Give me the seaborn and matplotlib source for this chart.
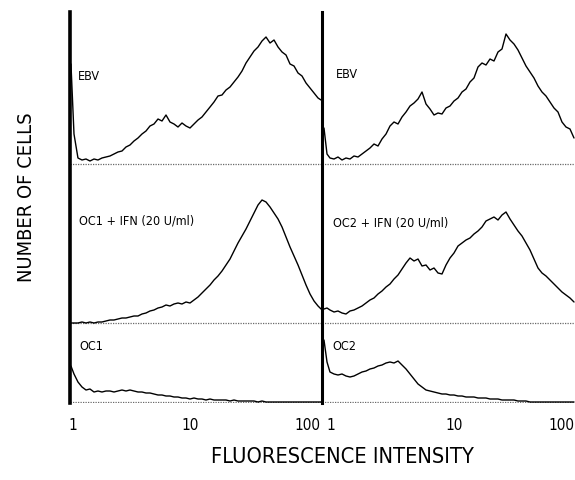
import matplotlib
matplotlib.use("Agg")
import matplotlib.pyplot as plt
from matplotlib import font_manager as fm
from matplotlib.ticker import NullLocator
import pandas as pd
import seaborn as sns

# ---------------- data ----------------
left_intensity = [0.961, 1.020, 1.103, 1.194, 1.292, 1.397, 1.512, 1.635, 1.769, 1.914,
                  2.071, 2.241, 2.424, 2.623, 2.838, 3.070, 3.322, 3.594, 3.888, 4.207,
                  4.551, 4.924, 5.328, 5.764, 6.236, 6.747, 7.298, 7.896, 8.543, 9.243,
                  10.00, 10.82, 11.71, 12.66, 13.70, 14.83, 16.04, 17.35, 18.77, 20.31,
                  21.98, 23.77, 25.72, 27.83, 30.11, 32.57, 35.24, 38.13, 41.25, 44.63,
                  48.29, 52.24, 56.52, 61.15, 66.16, 71.57, 77.43, 83.77, 90.63, 98.05,
                  106.1, 114.8, 124.2, 131.8]
ebv_left = [100, 30, 6, 4, 5, 3, 5, 4, 6, 7, 8, 10, 12, 13, 17, 19, 23, 26, 30, 33,
            38, 40, 45, 43, 49, 42, 40, 37, 41, 38, 36, 40, 44, 47, 52, 57, 62, 68, 69, 74,
            77, 82, 87, 93, 101, 107, 113, 117, 123, 127, 121, 124, 117, 112, 109, 100, 98, 91, 88, 81,
            76, 71, 66, 64]
oc1_ifn = [0, 0, 0, 1, 0, 1, 0, 1, 1, 2, 3, 3, 4, 5, 5, 6, 7, 7, 9, 10,
           12, 13, 15, 16, 18, 17, 19, 20, 19, 21, 20, 23, 26, 30, 34, 38, 43, 47, 52, 58,
           64, 72, 80, 87, 94, 102, 110, 118, 123, 121, 116, 110, 104, 96, 86, 76, 67, 58, 48, 38,
           29, 22, 17, 14]
oc1 = [36, 28, 20, 15, 12, 13, 10, 11, 10, 11, 11, 10, 11, 12, 11, 12, 11, 10, 10, 9,
       9, 8, 7, 7, 6, 6, 5, 5, 4, 4, 3, 4, 3, 3, 2, 3, 2, 2, 2, 2,
       1, 2, 1, 1, 1, 1, 1, 0, 1, 0, 0, 0, 0, 0, 0, 0, 0, 0, 0, 0,
       0, 0, 0, 0]

right_intensity = [0.877, 0.928, 0.981, 1.058, 1.140, 1.229, 1.324, 1.427, 1.538, 1.658,
                   1.787, 1.926, 2.075, 2.237, 2.411, 2.598, 2.801, 3.018, 3.253, 3.506,
                   3.778, 4.073, 4.389, 4.730, 5.098, 5.494, 5.921, 6.381, 6.878, 7.412,
                   7.988, 8.610, 9.279, 10.00, 10.78, 11.62, 12.52, 13.49, 14.54, 15.67,
                   16.89, 18.20, 19.62, 21.14, 22.79, 24.56, 26.47, 28.53, 30.74, 33.13,
                   35.71, 38.49, 41.48, 44.70, 48.18, 51.92, 55.96, 60.31, 65.00, 70.05,
                   75.49, 81.36, 87.69, 94.54]
ebv_right = [36, 10, 6, 5, 7, 4, 6, 5, 8, 7, 10, 13, 16, 20, 18, 25, 30, 38, 42, 40,
             47, 52, 58, 61, 65, 72, 60, 55, 49, 51, 50, 56, 58, 63, 66, 72, 75, 82, 86, 97,
             101, 99, 105, 103, 112, 115, 130, 124, 120, 114, 106, 98, 92, 86, 78, 72, 68, 62, 56, 52,
             42, 37, 35, 26]
oc2_ifn = [14, 15, 13, 11, 12, 10, 9, 12, 13, 15, 17, 20, 23, 25, 29, 32, 36, 39, 44, 48,
           54, 60, 65, 62, 64, 57, 58, 53, 55, 50, 49, 58, 65, 70, 77, 80, 83, 85, 89, 92,
           96, 102, 104, 106, 103, 108, 111, 104, 98, 92, 87, 80, 73, 64, 55, 50, 47, 43, 39, 35,
           31, 28, 25, 21]
oc2 = [62, 40, 30, 28, 27, 28, 26, 25, 26, 28, 30, 31, 33, 34, 36, 37, 39, 40, 39, 41,
       37, 33, 28, 23, 18, 15, 12, 11, 10, 9, 8, 8, 7, 7, 6, 6, 5, 5, 5, 4,
       4, 4, 3, 3, 3, 2, 2, 2, 2, 1, 1, 1, 0, 0, 0, 0, 0, 0, 0, 0,
       0, 0, 0, 0]

left_labels = ["EBV", "OC1 + IFN (20 U/ml)", "OC1"]
right_labels = ["EBV", "OC2 + IFN (20 U/ml)", "OC2"]
tick_values = [1, 10, 100]
tick_labels = ["1", "10", "100"]
x_title = "FLUORESCENCE INTENSITY"
y_title = "NUMBER OF CELLS"

# ---------------- style ----------------
sns.set_style("white")
entries = [(f.name, str(f.stretch)) for f in fm.fontManager.ttflist]
if any(n == "Liberation Sans Narrow" for n, s in entries):
    FAMILY, STRETCH = "Liberation Sans Narrow", "normal"
elif any(n in ("DejaVu Sans", "DejaVu Sans Condensed") and "condensed" in s for n, s in entries):
    FAMILY, STRETCH = "DejaVu Sans", "condensed"
else:
    FAMILY, STRETCH = "DejaVu Sans", "normal"
plt.rcParams["font.family"] = [FAMILY, "DejaVu Sans"]
plt.rcParams["font.stretch"] = STRETCH
plt.rcParams["text.color"] = "black"
plt.rcParams["xtick.color"] = "black"
plt.rcParams["xtick.labelcolor"] = "black"

W, H = 575, 480
fig = plt.figure(figsize=(W / 100, H / 100), dpi=100)
fig.patch.set_facecolor("white")

row_offsets = [239, 80, 1]  # baselines of the three stacked histograms

def make_panel(rect, xlim, intensity, series, labels, spine_lw, label_pos, shown_ticks):
    ax = fig.add_axes(rect)
    frames = []
    for lab, vals, off in zip(labels, series, row_offsets):
        frames.append(pd.DataFrame({"intensity": intensity,
                                    "y": [v + off for v in vals],
                                    "sample": lab}))
    df = pd.concat(frames, ignore_index=True)
    ax.set_xscale("log")
    sns.lineplot(data=df, x="intensity", y="y", hue="sample",
                 palette=["black"] * 3, estimator=None, legend=False,
                 linewidth=1.0, ax=ax)
    for off in row_offsets:
        ax.axhline(off, color="#6a6a6a", linestyle=(0, (1, 1)), linewidth=0.9, zorder=1)
    ax.set_xlim(*xlim)
    ax.set_ylim(0, 391)
    ax.set_xticks(tick_values)
    ax.set_xticklabels([t if t in shown_ticks else "" for t in tick_labels])
    ax.xaxis.set_minor_locator(NullLocator())
    ax.set_yticks([])
    ax.tick_params(axis="x", length=0, pad=11, labelsize=11)
    ax.set_xlabel("")
    ax.set_ylabel("")
    for s in ["top", "right", "bottom"]:
        ax.spines[s].set_visible(False)
    ax.spines["left"].set_linewidth(spine_lw)
    ax.spines["left"].set_color("black")
    ax.patch.set_alpha(0)
    for lab, (x, y) in zip(labels, label_pos):
        ax.text(x, y, lab, fontsize=9, va="center", ha="left", color="black")
    return ax

ax1 = make_panel([70 / W, 77 / H, 252 / W, 391 / H], (0.943, 134.3),
                 left_intensity, [ebv_left, oc1_ifn, oc1], left_labels, 2.6,
                 [(1.10, 327), (1.125, 182), (1.125, 57)], tick_labels)
ax2 = make_panel([322 / W, 77 / H, 278 / W, 391 / H], (0.845, 153.8),
                 right_intensity, [ebv_right, oc2_ifn, oc2], right_labels, 2.2,
                 [(1.098, 328), (1.04, 180), (1.02, 56)], tick_labels[:2])
# the last "100" of the right panel sits at the figure edge in the reference
fig.text(574 / W, 1 - 426 / H, tick_labels[2], ha="right", va="center", fontsize=11)

xt = fig.text(342 / W, 1 - 457 / H, x_title, ha="center", va="center", fontsize=16)
yt = fig.text(27 / W, 1 - 197 / H, y_title, ha="center", va="center", fontsize=16, rotation=90)

# fit the two titles to the widths measured on the reference
r = fig.canvas.get_renderer()
for t, target in [(xt, 265), (yt, 170)]:
    bb = t.get_window_extent(renderer=r)
    length = max(bb.width, bb.height)
    t.set_fontsize(t.get_fontsize() * target / length)

fig.savefig("out.png", dpi=100, facecolor="white")
